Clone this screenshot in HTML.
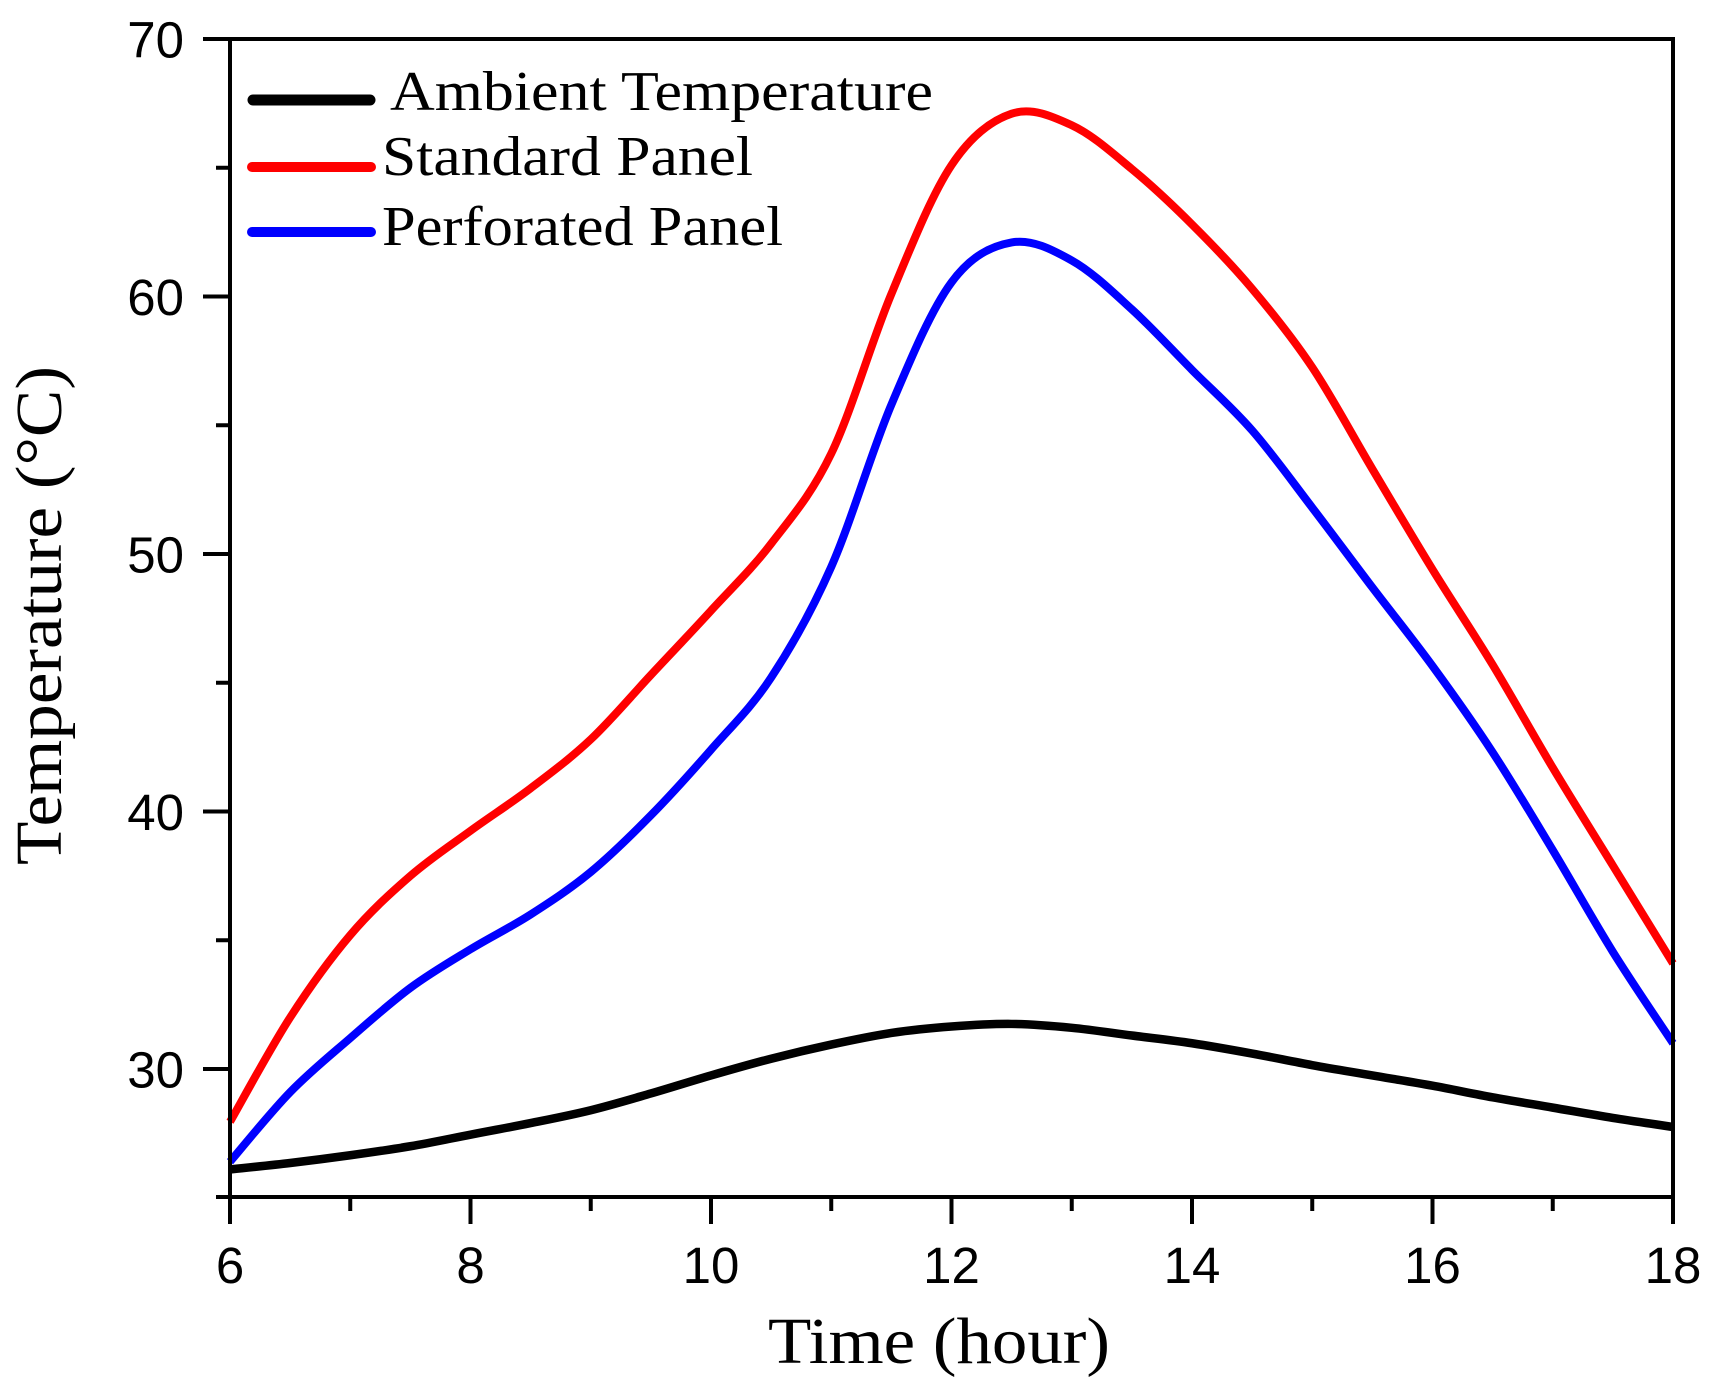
<!DOCTYPE html>
<html>
<head>
<meta charset="utf-8">
<style>
  html, body { margin: 0; padding: 0; background: #fff; }
  svg { display: block; }
  .tick { font-family: "Liberation Sans", Arial, sans-serif; font-size: 51px; fill: #000; }
  .leg { font-family: "Liberation Serif", "Times New Roman", serif; font-size: 56px; fill: #000; }
  .ttl { font-family: "Liberation Serif", "Times New Roman", serif; font-size: 66px; fill: #000; }
</style>
</head>
<body>
<svg width="1709" height="1393" viewBox="0 0 1709 1393" xmlns="http://www.w3.org/2000/svg">
  <rect x="0" y="0" width="1709" height="1393" fill="#fff"/>

  <!-- Series (data coords: t in hours, v in °C) -->
  <g transform="translate(-491.5,1841.5) scale(120.25,-25.75)" fill="none" stroke-linejoin="round" stroke-linecap="butt">
    <polyline class="s" vector-effect="non-scaling-stroke" stroke="#000000" stroke-width="8.5"
      points="6,26.1 6.5,26.35 7,26.65 7.5,27.0 8,27.45 8.5,27.9 9,28.4 9.5,29.05 10,29.75 10.5,30.4 11,30.95 11.5,31.4 12,31.65 12.5,31.75 13,31.6 13.5,31.3 14,31.0 14.5,30.6 15,30.15 15.5,29.75 16,29.35 16.5,28.9 17,28.5 17.5,28.1 18,27.75"/>
    <polyline class="s" vector-effect="non-scaling-stroke" stroke="#ff0000" stroke-width="8"
      points="6,27.95 6.5,32.0 7,35.2 7.5,37.5 8,39.25 8.5,40.9 9,42.8 9.5,45.3 10,47.8 10.5,50.4 11,53.9 11.5,60.1 12,65.1 12.5,67.1 13,66.65 13.5,64.95 14,62.8 14.5,60.3 15,57.25 15.5,53.3 16,49.4 16.5,45.7 17,41.7 17.5,37.9 18,34.1"/>
    <polyline class="s" vector-effect="non-scaling-stroke" stroke="#0000ff" stroke-width="8"
      points="6,26.4 6.5,29.1 7,31.2 7.5,33.15 8,34.65 8.5,36.0 9,37.65 9.5,39.85 10,42.4 10.5,45.2 11,49.5 11.5,55.8 12,60.55 12.5,62.1 13,61.4 13.5,59.5 14,57.15 14.5,54.8 15,51.8 15.5,48.7 16,45.65 16.5,42.3 17,38.5 17.5,34.55 18,31.0"/>
  </g>

  <!-- Axes frame -->
  <g stroke="#000" stroke-width="4" fill="none" stroke-linecap="square">
    <rect x="230" y="39" width="1443" height="1158"/>
  </g>

  <!-- Y ticks -->
  <g stroke="#000" stroke-width="4">
    <line x1="203" y1="39" x2="230" y2="39"/>
    <line x1="203" y1="296.5" x2="230" y2="296.5"/>
    <line x1="203" y1="554" x2="230" y2="554"/>
    <line x1="203" y1="811.5" x2="230" y2="811.5"/>
    <line x1="203" y1="1069" x2="230" y2="1069"/>
    <line x1="216" y1="167.75" x2="230" y2="167.75"/>
    <line x1="216" y1="425.25" x2="230" y2="425.25"/>
    <line x1="216" y1="682.75" x2="230" y2="682.75"/>
    <line x1="216" y1="940.25" x2="230" y2="940.25"/>
    <line x1="216" y1="1197" x2="230" y2="1197"/>
  </g>

  <!-- X ticks -->
  <g stroke="#000" stroke-width="4">
    <line x1="230" y1="1197" x2="230" y2="1224"/>
    <line x1="470.5" y1="1197" x2="470.5" y2="1224"/>
    <line x1="711" y1="1197" x2="711" y2="1224"/>
    <line x1="951.5" y1="1197" x2="951.5" y2="1224"/>
    <line x1="1192" y1="1197" x2="1192" y2="1224"/>
    <line x1="1432.5" y1="1197" x2="1432.5" y2="1224"/>
    <line x1="1673" y1="1197" x2="1673" y2="1224"/>
    <line x1="350.25" y1="1197" x2="350.25" y2="1211"/>
    <line x1="590.75" y1="1197" x2="590.75" y2="1211"/>
    <line x1="831.25" y1="1197" x2="831.25" y2="1211"/>
    <line x1="1071.75" y1="1197" x2="1071.75" y2="1211"/>
    <line x1="1312.25" y1="1197" x2="1312.25" y2="1211"/>
    <line x1="1552.75" y1="1197" x2="1552.75" y2="1211"/>
  </g>

  <!-- Y tick labels -->
  <g class="tick" text-anchor="end">
    <text x="184" y="57.5">70</text>
    <text x="184" y="315">60</text>
    <text x="184" y="572.5">50</text>
    <text x="184" y="830">40</text>
    <text x="184" y="1087.5">30</text>
  </g>

  <!-- X tick labels -->
  <g class="tick" text-anchor="middle">
    <text x="230" y="1283">6</text>
    <text x="470.5" y="1283">8</text>
    <text x="711" y="1283">10</text>
    <text x="951.5" y="1283">12</text>
    <text x="1192" y="1283">14</text>
    <text x="1432.5" y="1283">16</text>
    <text x="1673" y="1283">18</text>
  </g>

  <!-- Legend -->
  <g stroke-linecap="round">
    <line x1="253" y1="100" x2="370" y2="100" stroke="#000" stroke-width="11"/>
    <line x1="252" y1="167" x2="371" y2="167" stroke="#ff0000" stroke-width="10"/>
    <line x1="252" y1="232" x2="371" y2="232" stroke="#0000ff" stroke-width="10"/>
  </g>
  <text class="leg" x="390" y="110" textLength="543" lengthAdjust="spacingAndGlyphs">Ambient Temperature</text>
  <text class="leg" x="382" y="175" textLength="371" lengthAdjust="spacingAndGlyphs">Standard Panel</text>
  <text class="leg" x="382" y="245" textLength="401" lengthAdjust="spacingAndGlyphs">Perforated Panel</text>

  <!-- Axis titles -->
  <text class="ttl" x="768" y="1363" textLength="342" lengthAdjust="spacingAndGlyphs">Time (hour)</text>
  <text class="ttl" transform="translate(61,865) rotate(-90)" x="0" y="0" textLength="499" lengthAdjust="spacingAndGlyphs">Temperature (°C)</text>
</svg>
<script>
(function(){
  var NS = 'http://www.w3.org/2000/svg';
  var pls = document.querySelectorAll('polyline.s');
  for (var k = 0; k < pls.length; k++) {
    var pl = pls[k];
    var pts = pl.getAttribute('points').trim().split(/\s+/).map(function(p){ return p.split(',').map(Number); });
    var d = 'M' + pts[0][0] + ',' + pts[0][1];
    for (var i = 0; i < pts.length - 1; i++) {
      var p0 = pts[i-1] || pts[i], p1 = pts[i], p2 = pts[i+1], p3 = pts[i+2] || pts[i+1];
      var c1 = [p1[0] + (p2[0]-p0[0])/6, p1[1] + (p2[1]-p0[1])/6];
      var c2 = [p2[0] - (p3[0]-p1[0])/6, p2[1] - (p3[1]-p1[1])/6];
      d += ' C' + c1[0] + ',' + c1[1] + ' ' + c2[0] + ',' + c2[1] + ' ' + p2[0] + ',' + p2[1];
    }
    var path = document.createElementNS(NS, 'path');
    for (var a = 0; a < pl.attributes.length; a++) {
      var at = pl.attributes[a];
      if (at.name !== 'points' && at.name !== 'class') path.setAttribute(at.name, at.value);
    }
    path.setAttribute('d', d);
    pl.parentNode.replaceChild(path, pl);
  }
})();
</script>
</body>
</html>
